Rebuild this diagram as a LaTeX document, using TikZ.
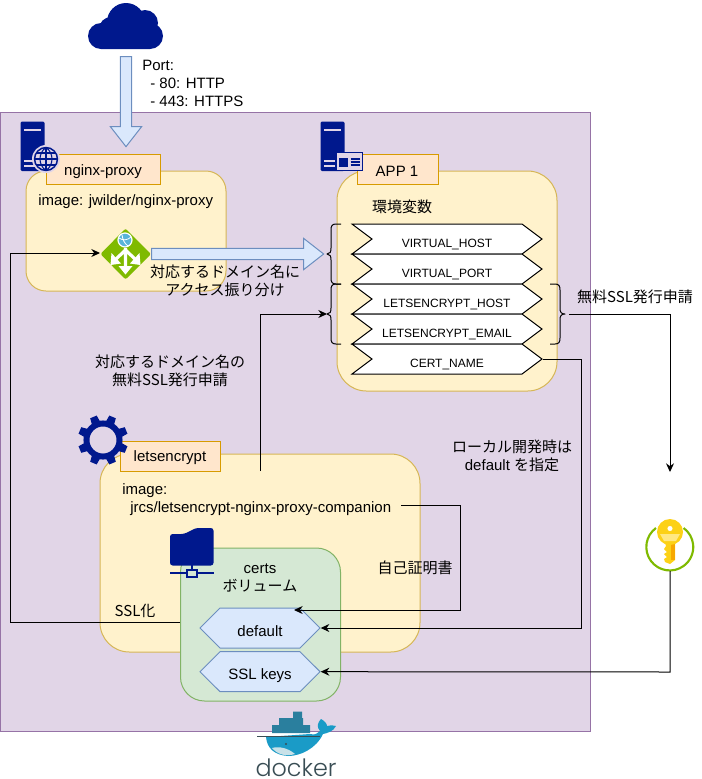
\documentclass[tikz,border=0pt]{standalone}
\usepackage{fontspec}
\setmainfont{Liberation Sans}
\newfontfamily\jp{Noto Sans CJK JP}
\newfontfamily\dockerfont{Poppins Light}
\usetikzlibrary{shapes.symbols,shapes.arrows,arrows.meta}
\definecolor{navy}{HTML}{00188D}
\definecolor{azgreen}{HTML}{7FBA00}
\definecolor{wood}{HTML}{E1D5E7}
\definecolor{woodedge}{HTML}{9673A6}
\definecolor{cream}{HTML}{FFF2CC}
\definecolor{creamedge}{HTML}{D6B656}
\definecolor{leaf}{HTML}{D5E8D4}
\definecolor{leafedge}{HTML}{82B366}
\definecolor{tagfill}{HTML}{FFE6CC}
\definecolor{tagedge}{HTML}{D79B00}
\definecolor{dockblue}{HTML}{1A9BC7}
\definecolor{dockdark}{HTML}{2A7F9E}
\definecolor{docktext}{HTML}{394D54}
\definecolor{blockblue}{HTML}{DAE8FC}
\definecolor{blockedge}{HTML}{6C8EBF}
\definecolor{skyglobe}{HTML}{59B4D9}
\definecolor{keyyel}{HTML}{FCD116}
\definecolor{keypale}{HTML}{FFE882}
\definecolor{keyorg}{HTML}{F7A800}
\definecolor{bellywhite}{HTML}{C8E1E8}
\newcommand{\lab}{\fontsize{11.25}{13.5}\selectfont}
\newcommand{\smalllab}{\fontsize{9}{10.5}\selectfont}
\tikzset{
  zone/.style={draw=creamedge,fill=cream,rectangle,inner sep=0pt,line width=0.75pt},
  txt/.style={inner sep=0pt,font=\lab,align=center},
  txtl/.style={inner sep=0pt,font=\lab,align=left,anchor=west},
  tagbox/.style={draw=tagedge,fill=tagfill,line width=0.75pt,inner sep=0pt,font=\lab,minimum height=22.5pt},
  envstep/.style={signal,signal from=west,signal to=east,signal pointer angle=73.74,draw=black,fill=white,line width=0.75pt,
     minimum width=142.5pt,minimum height=22.5pt,inner sep=0pt,font=\smalllab},
  vol/.style={signal,signal to=west and east,signal pointer angle=90,draw=blockedge,fill=blockblue,line width=0.75pt,
     minimum width=90pt,minimum height=30pt,inner sep=0pt,font=\lab},
  blockarrow/.style={single arrow,single arrow tip angle=76,single arrow head indent=0pt,draw=blockedge,fill=blockblue,line width=0.75pt,
     inner sep=3.9pt,minimum width=22.5pt,single arrow head extend=7.5pt},
  link/.style={draw=black,line width=0.75pt,-{Stealth[length=6.5pt,width=6pt]}},
  brace/.style={draw=black,line width=0.75pt,line join=round},
}
\begin{document}
\begin{tikzpicture}[x=0.75pt,y=-0.75pt]
\useasboundingbox (0,0) rectangle (701,779);
% docker host
\node[draw=woodedge,fill=wood,line width=0.75pt,minimum width=442.5pt,minimum height=464.25pt,inner sep=0pt] (host) at (295,421.5) {};
% cloud
\fill[navy] (126,22) circle (14.25pt) (145,23) circle (9.75pt) (150,36) circle (9.75pt) (101,36) circle (9.75pt) (111,29) circle (9pt)
  (101,33) rectangle (150,49);
% containers
\node[zone,rounded corners=15pt,minimum width=150pt,minimum height=90pt] (nginx) at (126,231) {};
\node[zone,rounded corners=22pt,minimum width=165pt,minimum height=165pt] (app) at (447,281) {};
\node[zone,rounded corners=22pt,minimum width=240pt,minimum height=148.5pt] (le) at (260,553) {};
\node[draw=leafedge,fill=leaf,rounded corners=18pt,line width=0.75pt,minimum width=120pt,minimum height=114.75pt,inner sep=0pt] (certs) at (260.5,624.5) {};
% server icons
\foreach \xa in {20.5,320.5}{
  \fill[navy,rounded corners=1pt] (\xa,121.5) rectangle (\xa+24,171);
  \fill[wood] (\xa+3.5,128.5) rectangle (\xa+20.5,131);
  \fill[wood] (\xa+3.5,160) rectangle (\xa+14,162);
  \fill[wood] (\xa+3.5,165) rectangle (\xa+14,167);
}
% tags
\node[tagbox,minimum width=85.5pt] (tagnginx) at (103,169.5) {};
\node[tagbox,minimum width=60.75pt] (tagapp) at (397.5,169) {};
\node[tagbox,minimum width=75pt] (tagle) at (170,456) {};
\node[txt] (tnginx) at (103,172) {nginx-proxy};
\node[txt] (tapp) at (397,171.5) {APP 1};
\node[txt] (tle) at (170,458) {letsencrypt};
% globe
\fill[wood] (46,159) circle (10.5pt);
\draw[navy,line width=1.1pt] (46,159) circle (8.6pt);
\draw[navy,line width=0.8pt] (46,147.5) -- (46,170.5) (34.5,159) -- (57.5,159) (36,153) -- (56,153) (36,165) -- (56,165);
\draw[navy,line width=0.8pt] (46,147.5) .. controls (38,153) and (38,165) .. (46,170.5) (46,147.5) .. controls (54,153) and (54,165) .. (46,170.5);
% window icon
\draw[navy,line width=1pt,fill=wood] (336,152.5) rectangle (362.5,170.5);
\fill[navy] (338.5,158) rectangle (348,167);
\draw[navy,line width=0.8pt] (350.5,159) -- (360,159) (350.5,162) -- (360,162) (350.5,165) -- (360,165);
% gear
\foreach \a in {22.5,67.5,...,337.5}{
  \fill[navy,rotate around={\a:(103,440)}] (98.5,423) -- (107.5,423) -- (106.5,415) -- (99.5,415) -- cycle;
}
\draw[navy,line width=4.5pt] (103,440) circle (12.4pt);
% folder
\fill[navy,rounded corners=2pt] (170,534) -- (184,534) -- (196,528) -- (213.5,528) -- (213.5,565.5) -- (170,565.5) -- cycle;
\draw[navy,line width=1.5pt] (192,565) -- (192,569) (170,573) -- (186,573) (198,573) -- (214,573);
\draw[navy,line width=1.5pt] (187,569.5) rectangle (197,577);
% texts
\node[txtl] (tport) at (142,65) {Port:};
\node[txtl] (t80) at (150,83) {- 80: HTTP};
\node[txtl] (t443) at (150,101) {- 443: HTTPS};
\node[txtl] (timgn) at (38,202) {image: jwilder/nginx-proxy};
\node[txt] (tenv) at (402,207) {\jp 環境変数};
\node[txt] (tdist) at (225,281) {\jp 対応するドメイン名に\\\jp アクセス振り分け};
\node[txt] (treq) at (170,370.5) {\jp 対応するドメイン名の\\\jp 無料SSL発行申請};
\node[txt] (tfree) at (635,297) {\jp 無料SSL発行申請};
\node[txt] (tlocal) at (512,456) {\jp ローカル開発時は\\default {\jp を指定}};
\node[txtl] (timgl) at (122,491) {image:};
\node[txtl] (tjrcs) at (130,509) {jrcs/letsencrypt-nginx-proxy-companion};
\node[txt] (tself) at (415,568) {\jp 自己証明書};
\node[txt] (tcerts) at (260,578) {certs\\\jp ボリューム};
\node[txt] (tssl) at (135,611) {\jp SSL化};
% env steps
\node[envstep] (e1) at (447,239) {\raisebox{-6pt}[0pt][0pt]{VIRTUAL\_HOST}};
\node[envstep] (e2) at (447,269) {\raisebox{-6pt}[0pt][0pt]{VIRTUAL\_PORT}};
\node[envstep] (e3) at (447,299) {\raisebox{-6pt}[0pt][0pt]{LETSENCRYPT\_HOST}};
\node[envstep] (e4) at (447,329) {\raisebox{-6pt}[0pt][0pt]{LETSENCRYPT\_EMAIL}};
\node[envstep] (e5) at (447,359) {\raisebox{-6pt}[0pt][0pt]{CERT\_NAME}};
% volumes
\node[vol] (vd) at (260,628) {\raisebox{-6pt}[0pt][0pt]{default}};
\node[vol] (vs) at (260,671.7) {\raisebox{-6pt}[0pt][0pt]{SSL keys}};
% braces
\coordinate (brA) at (327,254);
\coordinate (brB) at (327,314);
\coordinate (brC) at (569,314);
\draw[brace] (341,224) -- (336,224) .. controls (332,224) and (331,226) .. (331,230) -- (331,248) .. controls (331,252) and (330,254) .. (brA) .. controls (330,254) and (331,256) .. (331,260) -- (331,278) .. controls (331,282) and (332,284) .. (336,284) -- (341,284);
\draw[brace] (341,284) -- (336,284) .. controls (332,284) and (331,286) .. (331,290) -- (331,308) .. controls (331,312) and (330,314) .. (brB) .. controls (330,314) and (331,316) .. (331,320) -- (331,338) .. controls (331,342) and (332,344) .. (336,344) -- (341,344);
\draw[brace] (550,284) -- (555,284) .. controls (559,284) and (560,286) .. (560,290) -- (560,308) .. controls (560,312) and (561,314) .. (565,314) .. controls (561,314) and (560,316) .. (560,320) -- (560,338) .. controls (560,342) and (559,344) .. (555,344) -- (550,344);
% azure load balancer
\fill[azgreen,rounded corners=1.5pt] (125.5,228.5) -- (151,254) -- (125.5,279.5) -- (100.5,254) -- cycle;
\node[circle,fill=skyglobe,draw=white,line width=0.9pt,minimum size=10.5pt,inner sep=0pt] (lb) at (125,240) {};
\draw[white,line width=0.6pt] (119,238) .. controls (123,241) and (128,240) .. (131,237) (122,235) .. controls (123,240) and (124,243) .. (128,246);
\draw[white,line width=2.4pt] (125.5,248) -- (125.5,268) (125.5,250) -- (115,260) (125.5,250) -- (136,260);
\fill[white] (118.5,266) -- (125.5,274.5) -- (132.5,266) -- cycle;
\fill[white] (111.5,253) -- (110.5,265) -- (121,263.5) -- cycle;
\fill[white] (139.5,253) -- (140.5,265) -- (130,263.5) -- cycle;
% block arrows
\node[blockarrow,minimum height=67.5pt,shape border rotate=270] (aIn) at (126,98) {};
\node[blockarrow,minimum height=129pt] (aOut) at (234,254) {};
% key
\coordinate (keyc) at (670,547);
\draw[azgreen,line width=1.6pt] (656,528) arc[start angle=126,end angle=414,radius=17.6pt];
\fill[keyyel] (664,540) -- (675,540) -- (675,560) -- (670,564) -- (665,562) -- (664,559) -- (667,557) -- (664,554) -- (667,552) -- (664,549) -- (666,546) -- cycle;
\fill[keyorg] (671,540) rectangle (674.5,560);
\fill[keyyel] (670,532) circle (9.75pt);
\fill[keypale] (660,534) -- (680,534) -- (676,541) -- (664,541) -- cycle;
\fill[white] (670,528.5) circle (1.9pt);
\coordinate (keyb) at (670,571);
% docker whale
\fill[dockdark] (272,725) rectangle (310,733) (279,718) rectangle (303,725) (293,711.5) rectangle (302,720);
\fill[dockblue] (266,737) -- (310,734) .. controls (316,736) and (318,732) .. (320,731) .. controls (316,727) and (318,722) .. (321,719) .. controls (325,721) and (327,724) .. (327,726) .. controls (330,725) and (333,725) .. (336,726) .. controls (333,732) and (327,733) .. (323,734) .. controls (316,749) and (300,756) .. (288,756) .. controls (274,755) and (267,748) .. (266,737) -- cycle;
\fill[bellywhite] (272,748) .. controls (279,746) and (288,748) .. (295,754) .. controls (285,757) and (277,754) .. (272,748) -- cycle;
\draw[docktext,line width=0.4pt] (257,736) -- (320,736);
\fill[docktext] (286,744) circle (0.9pt);
\node[inner sep=0pt,text=docktext,font=\dockerfont\fontsize{17.9}{18}\selectfont] (tdocker) at (296,767.5) {docker};
% connectors
\coordinate (startSan) at (260,471);
\draw[link] (startSan) -- (260,314) -- (brB);
\draw[link] (brC) -- (670,314) -- (670,472);
\draw[link] (e5.east) -- (581,359) -- (581,628) -- (vd.east);
\coordinate (startSelf) at (401,505);
\coordinate (defTop) at (294,610);
\draw[link] (startSelf) -- (460,505) -- (460,610) -- (defTop);
\draw[link] (keyb) -- (670,672) -- (vs.east);
\coordinate (sslStart) at (180,622);
\coordinate (lbWest) at (100,253);
\draw[link] (sslStart) -- (10,622) -- (10,253) -- (lbWest);
\end{tikzpicture}
\end{document}
